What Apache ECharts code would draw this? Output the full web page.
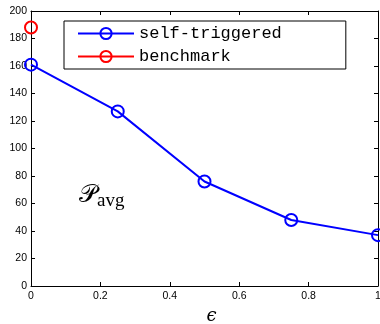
<!DOCTYPE html>
<html><head><meta charset="utf-8">
<script src="https://cdn.jsdelivr.net/npm/echarts@6/dist/echarts.min.js"></script>
<style>html,body{margin:0;padding:0;background:#fff}#c{width:380px;height:324px}</style>
</head><body><div id="c"></div>
<script>
const epsilons = [0, 0.25, 0.5, 0.75, 1];
const selfTriggered = [161, 127, 76, 48, 37];
const benchmarkX = [0];
const benchmark = [188];
const xTicks = [0, 0.2, 0.4, 0.6, 0.8, 1];
const yTicks = [0, 20, 40, 60, 80, 100, 120, 140, 160, 180, 200];

const chart = echarts.init(document.getElementById('c'));
const axisLine = {show: true, onZero: false, lineStyle: {color: '#000', width: 1}};
const tick = {show: true, inside: true, length: 4, lineStyle: {color: '#000'}};
const lab = {color: '#000', fontFamily: 'Liberation Sans', fontSize: 10.5};
chart.setOption({
  animation: false,
  grid: {left: 31, right: 2, top: 11, bottom: 38, outerBoundsMode: 'none', containLabel: false},
  xAxis: [{
    type: 'value', min: 0, max: 1, interval: 0.2,
    axisLine, axisTick: tick, splitLine: {show: false},
    axisLabel: Object.assign({margin: 5, formatter: v => String(Math.round(v*10)/10)}, lab),
    name: 'ϵ', nameLocation: 'middle', nameGap: 20,
    nameTextStyle: {fontFamily: 'DejaVu Serif', fontStyle: 'italic', fontSize: 18, color: '#000', padding: [0, 0, 0, 14]}
  }, {
    type: 'value', min: 0, max: 1, interval: 0.2, position: 'top',
    axisLine, axisTick: tick, axisLabel: {show: false}, splitLine: {show: false}
  }],
  yAxis: [{
    type: 'value', min: 0, max: 200, interval: 20,
    axisLine, axisTick: tick, splitLine: {show: false},
    axisLabel: Object.assign({margin: 4}, lab)
  }, {
    type: 'value', min: 0, max: 200, interval: 20, position: 'right',
    axisLine, axisTick: tick, axisLabel: {show: false}, splitLine: {show: false}
  }],
  legend: {
    orient: 'vertical', left: 64, top: 21,
    padding: [4, 64, 4, 13], itemGap: 6,
    itemWidth: 56, itemHeight: 14,
    backgroundColor: '#fff', borderColor: '#000', borderWidth: 1,
    textStyle: {fontFamily: 'Liberation Mono', fontSize: 17, color: '#000'},
    data: ['self-triggered', 'benchmark']
  },
  series: [{
    name: 'self-triggered', type: 'line',
    data: epsilons.map((x, i) => [x, selfTriggered[i]]),
    symbol: 'circle', symbolSize: 12,
    lineStyle: {color: '#0000ff', width: 2},
    itemStyle: {color: 'rgba(0,0,0,0)', borderColor: '#0000ff', borderWidth: 2}
  }, {
    name: 'benchmark', type: 'line',
    data: benchmarkX.map((x, i) => [x, benchmark[i]]),
    symbol: 'circle', symbolSize: 12,
    lineStyle: {color: '#ff0000', width: 2},
    itemStyle: {color: 'rgba(0,0,0,0)', borderColor: '#ff0000', borderWidth: 2}
  }],
  graphic: [{
    type: 'text', left: 79, top: 183,
    style: {
      text: '{p|𝒫}{s|avg}',
      rich: {
        p: {fontFamily: 'DejaVu Serif', fontSize: 25, fill: '#000'},
        s: {fontFamily: 'Liberation Serif', fontSize: 19, fill: '#000', padding: [12, 0, 0, 0]}
      }
    }
  }]
});
</script></body></html>
